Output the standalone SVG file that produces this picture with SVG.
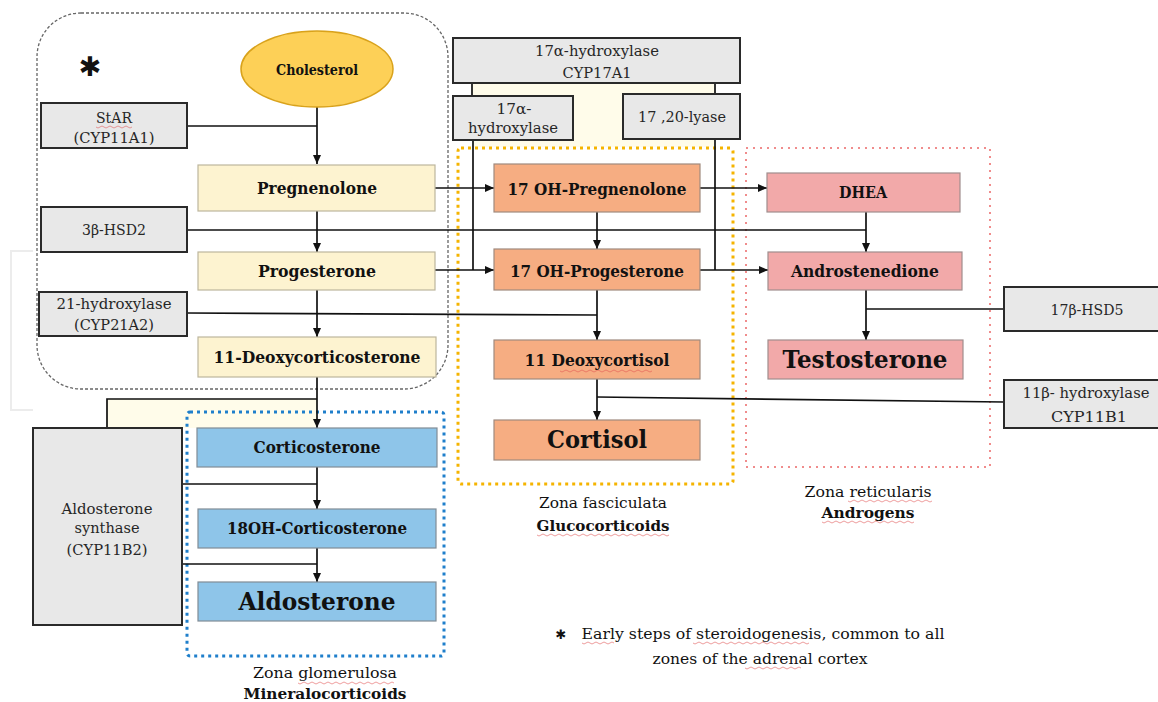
<svg xmlns="http://www.w3.org/2000/svg" width="1158" height="702" viewBox="0 0 1158 702">
<defs>
<marker id="arr" markerWidth="10" markerHeight="10" refX="9" refY="5" orient="auto" markerUnits="userSpaceOnUse">
<path d="M0,1 L9,5 L0,9 Z" fill="#111"/>
</marker>
<style>
text{font-family:"DejaVu Serif","Liberation Serif",serif;fill:#111;text-anchor:middle}
.enz rect{fill:#e8e8e8;stroke:#2a2a2a;stroke-width:2}
.enz text{font-size:15px;fill:#262626}
.met text{font-weight:bold;font-size:16px}
.big text{font-size:24px}
.pale{fill:#fdf3d0;stroke:#bdb69d;stroke-width:1.2}
.sal{fill:#f6ad82;stroke:#a08a7e;stroke-width:1.2}
.pink{fill:#f2a9a9;stroke:#a08e8e;stroke-width:1.2}
.blue{fill:#8ec5e9;stroke:#808c96;stroke-width:1.2}
.con path{fill:none;stroke:#111;stroke-width:1.7}
.con .a{marker-end:url(#arr)}
.lab{font-size:15px}
.labb{font-size:15px;font-weight:bold}
.sq{fill:none;stroke:#e05050;stroke-width:0.8;opacity:0.7}
</style>
</defs>
<rect width="1158" height="702" fill="#fff"/>

<!-- faint frame artifact -->
<path d="M33,251 H11 V410 H33" fill="none" stroke="#ececec" stroke-width="2"/>

<!-- zones -->
<g id="zone-early">
<rect x="37" y="13" width="411" height="376" rx="44" fill="none" stroke="#666" stroke-width="1.3" stroke-dasharray="3 2"/>
<text x="90" y="76" style="font-family:'DejaVu Sans',sans-serif;font-size:27px;font-weight:bold">✱</text>
</g>
<rect x="472" y="83" width="243" height="64" fill="#fffcea"/>
<rect x="107" y="399" width="210" height="29" fill="#fffcea"/>
<g id="zone-glomerulosa">
<rect x="187" y="412" width="257" height="244" rx="3" fill="none" stroke="#1f7fcb" stroke-width="3" stroke-dasharray="3 4"/>
<text class="lab" x="325" y="678" textLength="144" lengthAdjust="spacingAndGlyphs">Zona glomerulosa</text>
<text class="labb" x="325" y="699" textLength="163" lengthAdjust="spacingAndGlyphs">Mineralocorticoids</text>
</g>
<g id="zone-fasciculata">
<rect x="458" y="148" width="275" height="336" rx="3" fill="none" stroke="#f5b400" stroke-width="3" stroke-dasharray="3 4"/>
<text class="lab" x="603" y="508" textLength="128" lengthAdjust="spacingAndGlyphs">Zona fasciculata</text>
<text class="labb" x="603" y="531" textLength="133" lengthAdjust="spacingAndGlyphs">Glucocorticoids</text>
</g>
<g id="zone-reticularis">
<rect x="746" y="148" width="244" height="319" fill="none" stroke="#f08c8c" stroke-width="2" stroke-dasharray="2 5"/>
<text class="lab" x="868" y="497" textLength="127" lengthAdjust="spacingAndGlyphs">Zona reticularis</text>
<text class="labb" x="868" y="518" textLength="93" lengthAdjust="spacingAndGlyphs">Androgens</text>
</g>

<!-- connectors -->
<g id="connectors" class="con">
<path class="a" d="M317,107 V164"/>
<path d="M187,126 H317"/>
<path class="a" d="M317,211 V252"/>
<path d="M187,230 H866"/>
<path class="a" d="M317,290 V337"/>
<path d="M187,313 L597,315"/>
<path class="a" d="M317,377 V428"/>
<path d="M107,428 V399 H317"/>
<path class="a" d="M317,467 V509"/>
<path d="M182,484 H317"/>
<path class="a" d="M317,548 V582"/>
<path d="M182,564 H317"/>
<path class="a" d="M435,188 H494"/>
<path class="a" d="M435,270 H494"/>
<path d="M473,140 V270"/>
<path d="M472,83 V96"/>
<path d="M715,83 V94"/>
<path d="M715,139 V270"/>
<path class="a" d="M700,188 H767"/>
<path class="a" d="M700,270 H768"/>
<path class="a" d="M597,212 V249"/>
<path class="a" d="M597,290 V340"/>
<path class="a" d="M597,379 V420"/>
<path d="M597,397 L1004,402"/>
<path class="a" d="M866,212 V252"/>
<path class="a" d="M866,290 V340"/>
<path d="M866,309 H1004"/>
</g>

<!-- metabolites -->
<g id="cholesterol" class="met">
<ellipse cx="317" cy="69" rx="76" ry="38" fill="#fdd057" stroke="#d9a21b" stroke-width="1.5"/>
<text x="317" y="75" style="font-size:14px" textLength="82" lengthAdjust="spacingAndGlyphs">Cholesterol</text>
</g>
<g id="pregnenolone" class="met">
<rect class="pale" x="198" y="165" width="237" height="46"/>
<text x="317" y="194" textLength="120" lengthAdjust="spacingAndGlyphs">Pregnenolone</text>
</g>
<g id="progesterone" class="met">
<rect class="pale" x="198" y="252" width="237" height="38"/>
<text x="317" y="277" textLength="118" lengthAdjust="spacingAndGlyphs">Progesterone</text>
</g>
<g id="deoxycorticosterone" class="met">
<rect class="pale" x="198" y="337" width="238" height="40"/>
<text x="317" y="363" textLength="207" lengthAdjust="spacingAndGlyphs">11-Deoxycorticosterone</text>
</g>
<g id="corticosterone" class="met">
<rect class="blue" x="197" y="428" width="240" height="39"/>
<text x="317" y="453" textLength="127" lengthAdjust="spacingAndGlyphs">Corticosterone</text>
</g>
<g id="oh-corticosterone" class="met">
<rect class="blue" x="198" y="509" width="238" height="39"/>
<text x="317" y="534" textLength="180" lengthAdjust="spacingAndGlyphs">18OH-Corticosterone</text>
</g>
<g id="aldosterone" class="met big">
<rect class="blue" x="198" y="582" width="238" height="39"/>
<text x="317" y="610" textLength="157" lengthAdjust="spacingAndGlyphs">Aldosterone</text>
</g>
<g id="oh-pregnenolone" class="met">
<rect class="sal" x="494" y="164" width="206" height="48"/>
<text x="597" y="195" textLength="179" lengthAdjust="spacingAndGlyphs">17 OH-Pregnenolone</text>
</g>
<g id="oh-progesterone" class="met">
<rect class="sal" x="494" y="249" width="206" height="41"/>
<text x="597" y="277" textLength="174" lengthAdjust="spacingAndGlyphs">17 OH-Progesterone</text>
</g>
<g id="deoxycortisol" class="met">
<rect class="sal" x="494" y="340" width="206" height="39"/>
<text x="597" y="366" textLength="145" lengthAdjust="spacingAndGlyphs">11 Deoxycortisol</text>
</g>
<g id="cortisol" class="met big">
<rect class="sal" x="494" y="420" width="206" height="40"/>
<text x="597" y="448" textLength="100" lengthAdjust="spacingAndGlyphs">Cortisol</text>
</g>
<g id="dhea" class="met">
<rect class="pink" x="767" y="173" width="193" height="39"/>
<text x="863" y="198" textLength="48" lengthAdjust="spacingAndGlyphs">DHEA</text>
</g>
<g id="androstenedione" class="met">
<rect class="pink" x="768" y="252" width="194" height="38"/>
<text x="865" y="277" textLength="148" lengthAdjust="spacingAndGlyphs">Androstenedione</text>
</g>
<g id="testosterone" class="met big">
<rect class="pink" x="768" y="340" width="195" height="39"/>
<text x="865" y="368" textLength="165" lengthAdjust="spacingAndGlyphs">Testosterone</text>
</g>

<!-- enzymes -->
<g id="star" class="enz">
<rect x="41" y="103" width="146" height="45"/>
<text x="114" y="123" textLength="36" lengthAdjust="spacingAndGlyphs">StAR</text>
<text x="114" y="143" textLength="81" lengthAdjust="spacingAndGlyphs">(CYP11A1)</text>
</g>
<g id="hsd3b2" class="enz">
<rect x="41" y="207" width="146" height="45"/>
<text x="114" y="235" textLength="64" lengthAdjust="spacingAndGlyphs">3β-HSD2</text>
</g>
<g id="cyp21a2" class="enz">
<rect x="39" y="292" width="148" height="44"/>
<text x="114" y="309" textLength="115" lengthAdjust="spacingAndGlyphs">21-hydroxylase</text>
<text x="114" y="330" textLength="80" lengthAdjust="spacingAndGlyphs">(CYP21A2)</text>
</g>
<g id="cyp11b2" class="enz">
<rect x="33" y="428" width="149" height="197"/>
<text x="107" y="514" textLength="91" lengthAdjust="spacingAndGlyphs">Aldosterone</text>
<text x="107" y="533" textLength="65" lengthAdjust="spacingAndGlyphs">synthase</text>
<text x="107" y="555" textLength="81" lengthAdjust="spacingAndGlyphs">(CYP11B2)</text>
</g>
<g id="cyp17a1" class="enz">
<rect x="453" y="38" width="287" height="45"/>
<text x="597" y="56" textLength="124" lengthAdjust="spacingAndGlyphs">17α-hydroxylase</text>
<text x="597" y="78" textLength="69" lengthAdjust="spacingAndGlyphs">CYP17A1</text>
</g>
<g id="hydroxylase17" class="enz">
<rect x="453" y="96" width="120" height="44"/>
<text x="514" y="114" textLength="35" lengthAdjust="spacingAndGlyphs">17α-</text>
<text x="513" y="133" textLength="90" lengthAdjust="spacingAndGlyphs">hydroxylase</text>
</g>
<g id="lyase" class="enz">
<rect x="623" y="94" width="117" height="45"/>
<text x="682" y="122" textLength="88" lengthAdjust="spacingAndGlyphs">17 ,20-lyase</text>
</g>
<g id="hsd17b5" class="enz">
<rect x="1004" y="287" width="166" height="44"/>
<text x="1087" y="315" textLength="73" lengthAdjust="spacingAndGlyphs">17β-HSD5</text>
</g>
<g id="cyp11b1" class="enz">
<rect x="1004" y="380" width="166" height="48"/>
<text x="1086" y="398" textLength="127" lengthAdjust="spacingAndGlyphs">11β- hydroxylase</text>
<text x="1089" y="422" textLength="76" lengthAdjust="spacingAndGlyphs">CYP11B1</text>
</g>

<!-- footnote -->
<g id="footnote">
<text x="561" y="639" style="font-family:'DejaVu Sans',sans-serif;font-size:13px;font-weight:bold">✱</text>
<text class="lab" x="763" y="639" textLength="363" lengthAdjust="spacingAndGlyphs">Early steps of steroidogenesis,  common to all</text>
<text class="lab" x="760" y="664" textLength="215" lengthAdjust="spacingAndGlyphs">zones of the adrenal cortex</text>
</g>

<!-- spellcheck underlines -->
<g class="sq">
<path d="M96,127 q2,2 4,0 t4,0 t4,0 t4,0 t4,0 t4,0 t4,0 t4,0 t4,0"/>
<path d="M560,371 q2,2 4,0 t4,0 t4,0 t4,0 t4,0 t4,0 t4,0 t4,0 t4,0 t4,0 t4,0 t4,0 t4,0 t4,0 t4,0 t4,0 t4,0 t4,0 t4,0 t4,0 t4,0 t4,0 t4,0"/>
<path d="M298,683 q2,2 4,0 t4,0 t4,0 t4,0 t4,0 t4,0 t4,0 t4,0 t4,0 t4,0 t4,0 t4,0 t4,0 t4,0 t4,0 t4,0 t4,0 t4,0 t4,0 t4,0 t4,0 t4,0 t4,0 t4,0"/>
<path d="M537,535 q2,2 4,0 t4,0 t4,0 t4,0 t4,0 t4,0 t4,0 t4,0 t4,0 t4,0 t4,0 t4,0 t4,0 t4,0 t4,0 t4,0 t4,0 t4,0 t4,0 t4,0 t4,0 t4,0 t4,0 t4,0 t4,0 t4,0 t4,0 t4,0 t4,0 t4,0 t4,0 t4,0 t4,0"/>
<path d="M848,501 q2,2 4,0 t4,0 t4,0 t4,0 t4,0 t4,0 t4,0 t4,0 t4,0 t4,0 t4,0 t4,0 t4,0 t4,0 t4,0 t4,0 t4,0 t4,0 t4,0 t4,0 t4,0"/>
<path d="M822,522 q2,2 4,0 t4,0 t4,0 t4,0 t4,0 t4,0 t4,0 t4,0 t4,0 t4,0 t4,0 t4,0 t4,0 t4,0 t4,0 t4,0 t4,0 t4,0 t4,0 t4,0 t4,0 t4,0 t4,0"/>
<path d="M582,643 q2,2 4,0 t4,0 t4,0 t4,0 t4,0 t4,0 t4,0 t4,0"/>
<path d="M693,643 q2,2 4,0 t4,0 t4,0 t4,0 t4,0 t4,0 t4,0 t4,0 t4,0 t4,0 t4,0 t4,0 t4,0 t4,0 t4,0 t4,0 t4,0 t4,0 t4,0 t4,0 t4,0 t4,0 t4,0 t4,0 t4,0 t4,0 t4,0 t4,0 t4,0"/>
<path d="M745,668 q2,2 4,0 t4,0 t4,0 t4,0 t4,0 t4,0 t4,0 t4,0 t4,0 t4,0 t4,0 t4,0 t4,0 t4,0"/>
</g>
</svg>
